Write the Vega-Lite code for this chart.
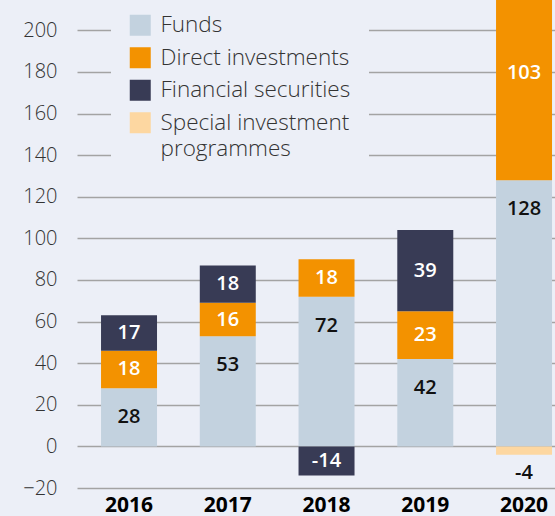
{
  "$schema": "https://vega.github.io/schema/vega-lite/v6.json",
  "width": 478,
  "height": 488,
  "autosize": {"type": "none"},
  "padding": {"left": 77, "top": 0, "right": 0, "bottom": 28},
  "background": "#ECEFF7",
  "config": {"view": {"stroke": null}, "font": "Open Sans", "style": {"guide-label": {"lineHeight": 26}}},
  "data": {
    "values": [
      {"year": "2016", "series": "Funds", "value": 28},
      {"year": "2016", "series": "Direct investments", "value": 18},
      {"year": "2016", "series": "Financial securities", "value": 17},
      {"year": "2017", "series": "Funds", "value": 53},
      {"year": "2017", "series": "Direct investments", "value": 16},
      {"year": "2017", "series": "Financial securities", "value": 18},
      {"year": "2018", "series": "Funds", "value": 72},
      {"year": "2018", "series": "Direct investments", "value": 18},
      {"year": "2018", "series": "Financial securities", "value": -14},
      {"year": "2019", "series": "Funds", "value": 42},
      {"year": "2019", "series": "Direct investments", "value": 23},
      {"year": "2019", "series": "Financial securities", "value": 39},
      {"year": "2020", "series": "Funds", "value": 128},
      {"year": "2020", "series": "Direct investments", "value": 103},
      {"year": "2020", "series": "Special investment programmes", "value": -4}
    ]
  },
  "transform": [
    {"calculate": "indexof(['Funds','Direct investments','Financial securities','Special investment programmes'], datum.series)", "as": "ord"},
    {"stack": "value", "groupby": ["year"], "sort": [{"field": "ord", "order": "ascending"}], "as": ["y0", "y1"]},
    {"calculate": "(datum.y0 + datum.y1) / 2", "as": "mid"}
  ],
  "encoding": {
    "x": {
      "field": "year",
      "type": "ordinal",
      "scale": {"paddingInner": 0.433, "paddingOuter": 0.1367, "align": 0.89},
      "axis": {"title": null, "domain": false, "ticks": false, "labelAngle": 0, "labelFontSize": 21, "labelFontWeight": "bold", "labelColor": "#000000", "labelPadding": 6, "grid": false}
    }
  },
  "layer": [
    {
      "mark": {"type": "bar", "clip": true},
      "encoding": {
        "y": {
          "field": "y0",
          "type": "quantitative",
          "scale": {"domain": [-20, 214.6], "nice": false, "zero": false},
          "axis": {"title": null, "values": [-20, 0, 20, 40, 60, 80, 100, 120, 140, 160, 180, 200], "domain": false, "ticks": false, "labelFontSize": 20, "labelColor": "#333333", "labelFontWeight": 300, "labelPadding": 20, "gridColor": "#A3A3A3", "gridWidth": 1.5}
        },
        "y2": {"field": "y1"},
        "color": {
          "field": "series",
          "type": "nominal",
          "scale": {
            "domain": ["Funds", "Direct investments", "Financial securities", "Special investment programmes"],
            "range": ["#C3D2DF", "#F39200", "#383B55", "#FDD7A1"]
          },
          "legend": {
            "title": null,
            "orient": "none",
            "legendX": 34,
            "legendY": -4,
            "fillColor": "#ECEFF7",
            "padding": 18,
            "symbolType": "square",
            "symbolSize": 441,
            "symbolStrokeWidth": 0,
            "symbolOpacity": 1,
            "labelFontSize": 22.5,
            "labelColor": "#333333",
            "labelFontWeight": 300,
            "rowPadding": 9.5,
            "labelOffset": 9,
            "labelLimit": 400,
            "labelExpr": "datum.label == 'Special investment programmes' ? ['Special investment', 'programmes'] : datum.label"
          }
        }
      }
    },
    {
      "transform": [{"filter": "datum.series == 'Direct investments' || datum.series == 'Financial securities'"}],
      "mark": {"type": "text", "fontSize": 20, "fontWeight": 600, "color": "#FFFFFF", "baseline": "middle"},
      "encoding": {"y": {"field": "mid", "type": "quantitative"}, "text": {"field": "value", "type": "nominal"}}
    },
    {
      "transform": [{"filter": "datum.series == 'Funds'"}],
      "mark": {"type": "text", "fontSize": 20, "fontWeight": 600, "color": "#111111", "baseline": "middle", "dy": 29},
      "encoding": {"y": {"field": "y1", "type": "quantitative"}, "text": {"field": "value", "type": "nominal"}}
    },
    {
      "transform": [{"filter": "datum.series == 'Special investment programmes'"}],
      "mark": {"type": "text", "fontSize": 20, "fontWeight": 600, "color": "#111111", "baseline": "middle", "dy": 18},
      "encoding": {"y": {"field": "y1", "type": "quantitative"}, "text": {"field": "value", "type": "nominal"}}
    }
  ]
}
